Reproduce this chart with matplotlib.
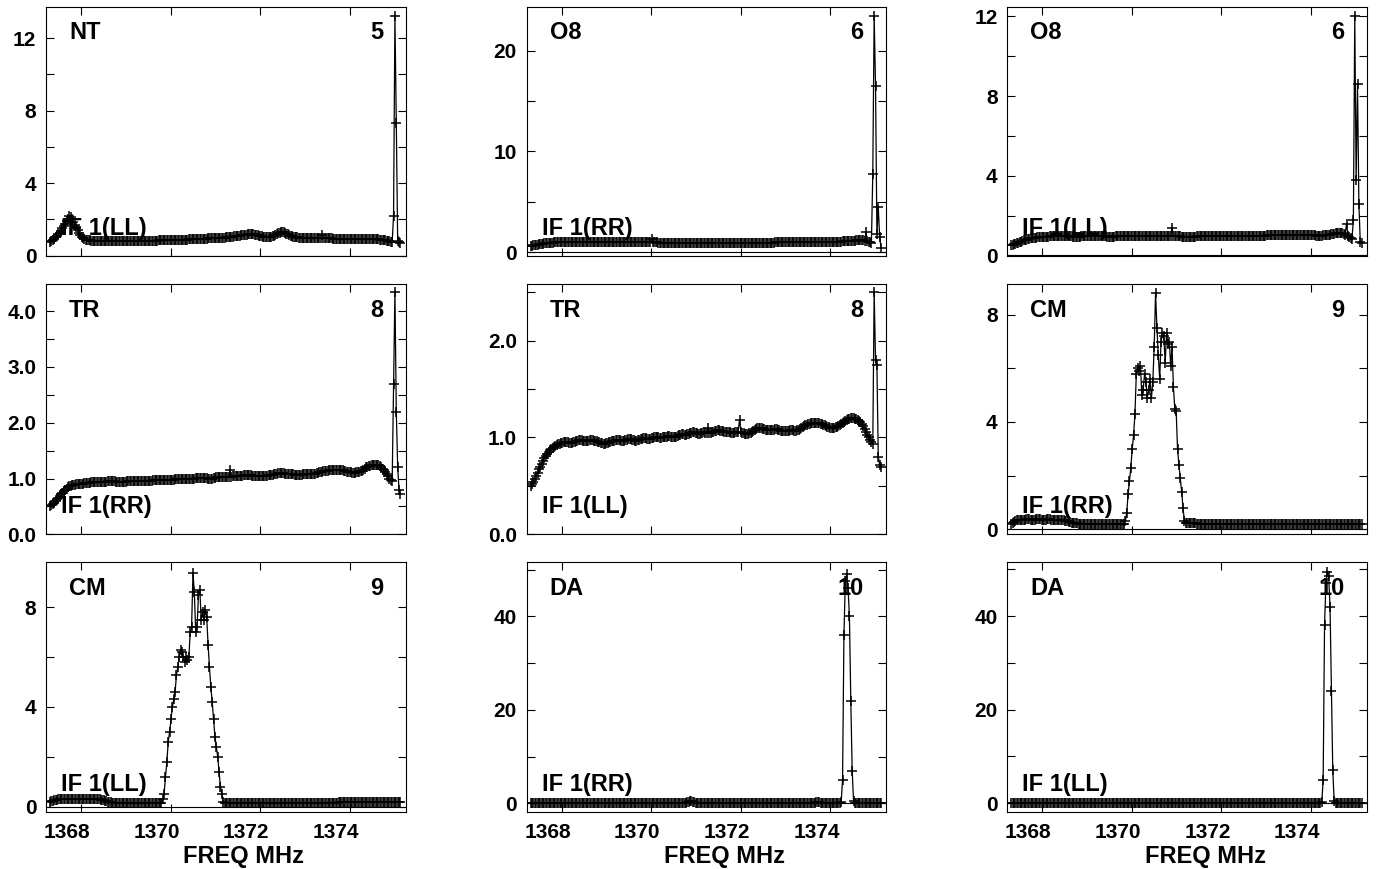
import numpy as np
import matplotlib
matplotlib.use("Agg")
import matplotlib.pyplot as plt
from matplotlib.ticker import FormatStrFormatter
from matplotlib.transforms import ScaledTranslation

# channel frequencies (MHz), 256 channels across the band
CHAN0_MHZ = 1367.31
CHAN_WIDTH_MHZ = 0.030667
N_CHAN = 256

antennas = ["NT", "O8", "O8", "TR", "TR", "CM", "CM", "DA", "DA"]
ant_numbers = [5, 6, 6, 8, 8, 9, 9, 10, 10]
polarizations = ["LL", "RR", "LL", "RR", "LL", "RR", "LL", "RR", "LL"]
freq_ticks = [1368, 1370, 1372, 1374]

amp_nt_ll = [
    0.75, 0.80, 0.86, 0.93, 1.00, 1.08, 1.17, 1.27, 1.38, 1.50, 1.62, 1.75, 1.88, 2.00, 2.20, 2.10,
    2.00, 1.85, 1.70, 1.55, 1.40, 1.25, 1.12, 1.02, 0.95, 0.90, 0.87, 0.85, 0.84, 0.83, 0.82, 0.82,
    0.81, 0.81, 0.80, 0.80, 0.80, 0.79, 0.79, 0.79, 0.79, 0.78, 0.78, 0.78, 0.78, 0.79, 0.79, 0.78,
    0.78, 0.78, 0.78, 0.79, 0.79, 0.79, 0.80, 0.80, 0.79, 0.79, 0.79, 0.80, 0.80, 0.80, 0.80, 0.80,
    0.80, 0.80, 0.81, 0.81, 0.81, 0.81, 0.80, 0.80, 0.81, 0.81, 0.82, 0.82, 0.82, 0.82, 0.82, 0.83,
    0.83, 0.83, 0.83, 0.84, 0.84, 0.84, 0.84, 0.85, 0.85, 0.85, 0.85, 0.86, 0.86, 0.86, 0.86, 0.87,
    0.87, 0.87, 0.88, 0.88, 0.88, 0.89, 0.89, 0.89, 0.90, 0.90, 0.90, 0.91, 0.91, 0.91, 0.92, 0.92,
    0.92, 0.93, 0.93, 0.94, 0.94, 0.94, 0.95, 0.95, 0.96, 0.96, 0.97, 0.97, 0.98, 0.98, 0.99, 0.99,
    1.00, 1.01, 1.02, 1.03, 1.04, 1.05, 1.06, 1.07, 1.08, 1.09, 1.10, 1.11, 1.12, 1.14, 1.15, 1.16,
    1.17, 1.18, 1.19, 1.18, 1.17, 1.16, 1.14, 1.12, 1.10, 1.08, 1.06, 1.04, 1.03, 1.02, 1.01, 1.01,
    1.02, 1.04, 1.07, 1.10, 1.14, 1.18, 1.22, 1.26, 1.29, 1.30, 1.28, 1.25, 1.21, 1.17, 1.13, 1.10,
    1.07, 1.05, 1.03, 1.01, 1.00, 0.99, 0.98, 0.97, 0.97, 0.96, 0.96, 0.95, 0.95, 0.95, 0.94, 0.94,
    0.94, 0.95, 0.95, 0.96, 0.96, 0.97, 1.12, 0.97, 0.96, 0.96, 0.95, 0.95, 0.94, 0.94, 0.93, 0.93,
    0.93, 0.92, 0.92, 0.92, 0.91, 0.91, 0.91, 0.90, 0.90, 0.91, 0.91, 0.92, 0.92, 0.93, 0.93, 0.93,
    0.93, 0.93, 0.93, 0.92, 0.92, 0.93, 0.93, 0.93, 0.92, 0.92, 0.92, 0.91, 0.91, 0.90, 0.90, 0.89,
    0.88, 0.87, 0.86, 0.85, 0.84, 0.82, 0.80, 0.78, 0.76, 0.75, 2.20, 13.20, 7.30, 0.80, 0.72, 0.70,
]

amp_o8_rr = [
    0.60, 0.62, 0.65, 0.68, 0.71, 0.74, 0.77, 0.80, 0.82, 0.84, 0.86, 0.88, 0.90, 0.91, 0.92, 0.93,
    0.94, 0.95, 0.95, 0.96, 0.96, 0.97, 0.97, 0.97, 0.98, 0.98, 0.98, 0.98, 0.99, 0.99, 0.99, 0.99,
    0.99, 0.99, 0.98, 0.98, 0.99, 0.99, 1.00, 1.00, 0.99, 0.99, 0.99, 0.98, 0.98, 0.98, 0.97, 0.97,
    0.97, 0.97, 0.97, 0.96, 0.96, 0.96, 0.96, 0.97, 0.97, 0.97, 0.97, 0.98, 0.98, 0.98, 0.98, 0.98,
    0.98, 0.99, 0.99, 0.99, 0.99, 0.99, 0.98, 0.98, 0.98, 0.98, 0.97, 0.97, 0.97, 0.97, 0.97, 0.97,
    0.97, 0.97, 0.96, 0.96, 0.96, 0.96, 0.96, 0.96, 1.30, 0.96, 0.95, 0.95, 0.95, 0.94, 0.94, 0.94,
    0.94, 0.93, 0.93, 0.93, 0.93, 0.93, 0.92, 0.92, 0.92, 0.92, 0.92, 0.92, 0.92, 0.92, 0.91, 0.91,
    0.91, 0.91, 0.91, 0.91, 0.91, 0.91, 0.91, 0.91, 0.91, 0.91, 0.91, 0.91, 0.91, 0.91, 0.91, 0.91,
    0.91, 0.91, 0.91, 0.91, 0.91, 0.91, 0.91, 0.91, 0.91, 0.91, 0.91, 0.92, 0.92, 0.92, 0.92, 0.92,
    0.92, 0.92, 0.92, 0.92, 0.92, 0.92, 0.92, 0.92, 0.92, 0.92, 0.92, 0.92, 0.92, 0.92, 0.92, 0.92,
    0.92, 0.92, 0.92, 0.93, 0.93, 0.93, 0.93, 0.93, 0.93, 0.93, 0.93, 0.93, 0.94, 0.94, 0.94, 0.94,
    0.94, 0.94, 0.95, 0.95, 0.95, 0.95, 0.95, 0.95, 0.96, 0.96, 0.96, 0.96, 0.96, 0.97, 0.97, 0.97,
    0.97, 0.97, 0.97, 0.98, 0.98, 0.98, 0.98, 0.98, 0.98, 0.99, 0.99, 0.99, 0.99, 0.99, 0.99, 0.99,
    1.00, 1.00, 1.00, 1.00, 1.00, 1.00, 1.01, 1.01, 1.01, 1.01, 1.01, 1.02, 1.02, 1.02, 1.03, 1.03,
    1.03, 1.04, 1.04, 1.05, 1.05, 1.06, 1.07, 1.08, 1.09, 1.10, 1.11, 1.12, 1.14, 1.15, 1.17, 1.18,
    1.20, 1.18, 1.15, 1.10, 2.00, 1.05, 1.00, 0.95, 0.90, 7.80, 23.50, 16.50, 1.80, 4.50, 1.50, 0.40,
]

amp_o8_ll = [
    0.50, 0.52, 0.55, 0.58, 0.61, 0.64, 0.67, 0.70, 0.73, 0.76, 0.78, 0.80, 0.82, 0.84, 0.86, 0.87,
    0.88, 0.89, 0.90, 0.91, 0.92, 0.93, 0.93, 0.94, 0.94, 0.95, 0.95, 0.95, 0.96, 0.96, 0.96, 0.96,
    0.96, 0.97, 0.97, 0.97, 0.96, 0.96, 0.96, 0.97, 0.97, 0.97, 0.96, 0.96, 0.96, 0.95, 0.95, 0.95,
    0.95, 0.95, 0.95, 0.96, 0.96, 0.96, 0.96, 0.96, 0.97, 0.97, 0.97, 0.97, 0.97, 0.97, 0.97, 0.97,
    0.97, 0.96, 0.96, 0.96, 0.96, 0.96, 0.95, 0.95, 0.95, 0.95, 0.95, 0.95, 0.96, 0.96, 0.96, 0.96,
    0.97, 0.97, 0.97, 0.97, 0.97, 0.96, 0.96, 0.96, 0.96, 0.96, 0.96, 0.96, 0.96, 0.97, 0.97, 0.97,
    0.97, 0.97, 0.97, 0.97, 0.97, 0.98, 0.98, 0.98, 0.98, 0.98, 0.98, 0.98, 0.98, 0.98, 0.98, 0.98,
    0.98, 0.98, 0.98, 0.98, 0.98, 1.40, 0.98, 0.97, 0.97, 0.96, 0.96, 0.96, 0.95, 0.95, 0.95, 0.95,
    0.95, 0.95, 0.95, 0.95, 0.95, 0.95, 0.95, 0.96, 0.96, 0.96, 0.96, 0.96, 0.96, 0.96, 0.96, 0.96,
    0.97, 0.97, 0.97, 0.97, 0.97, 0.97, 0.97, 0.97, 0.97, 0.97, 0.97, 0.97, 0.97, 0.97, 0.98, 0.98,
    0.98, 0.98, 0.98, 0.98, 0.98, 0.98, 0.98, 0.98, 0.98, 0.98, 0.98, 0.98, 0.98, 0.98, 0.99, 0.99,
    0.99, 0.99, 0.99, 0.99, 0.99, 1.00, 1.00, 1.00, 1.00, 1.00, 1.01, 1.01, 1.01, 1.01, 1.01, 1.01,
    1.02, 1.02, 1.02, 1.02, 1.03, 1.03, 1.03, 1.03, 1.04, 1.04, 1.04, 1.05, 1.05, 1.05, 1.05, 1.05,
    1.05, 1.05, 1.05, 1.05, 1.05, 1.04, 1.04, 1.04, 1.03, 1.03, 1.02, 1.02, 1.01, 1.01, 1.00, 1.00,
    1.00, 1.00, 1.00, 1.01, 1.01, 1.02, 1.03, 1.04, 1.05, 1.07, 1.08, 1.10, 1.12, 1.13, 1.14, 1.15,
    1.14, 1.12, 1.10, 1.05, 1.60, 1.00, 0.95, 0.90, 0.85, 1.80, 12.00, 3.80, 8.60, 2.60, 0.70, 0.60,
]

amp_tr_rr = [
    0.50, 0.52, 0.54, 0.57, 0.60, 0.63, 0.66, 0.69, 0.72, 0.75, 0.78, 0.80, 0.82, 0.84, 0.86, 0.87,
    0.88, 0.89, 0.89, 0.90, 0.90, 0.91, 0.91, 0.91, 0.91, 0.92, 0.92, 0.92, 0.92, 0.92, 0.93, 0.93,
    0.93, 0.93, 0.93, 0.93, 0.94, 0.94, 0.94, 0.94, 0.94, 0.94, 0.95, 0.95, 0.95, 0.95, 0.95, 0.95,
    0.94, 0.94, 0.94, 0.94, 0.94, 0.94, 0.94, 0.94, 0.95, 0.95, 0.95, 0.96, 0.96, 0.96, 0.96, 0.96,
    0.96, 0.96, 0.96, 0.96, 0.96, 0.95, 0.95, 0.95, 0.95, 0.96, 0.96, 0.97, 0.97, 0.98, 0.98, 0.98,
    0.98, 0.98, 0.98, 0.98, 0.98, 0.98, 0.97, 0.97, 0.97, 0.98, 0.98, 0.99, 0.99, 1.00, 1.00, 1.00,
    1.00, 1.00, 1.00, 1.00, 1.00, 1.00, 1.00, 1.00, 1.00, 1.00, 1.01, 1.01, 1.01, 1.01, 1.01, 1.01,
    1.01, 1.01, 1.01, 1.00, 1.00, 1.00, 1.00, 1.01, 1.01, 1.02, 1.02, 1.02, 1.02, 1.02, 1.02, 1.03,
    1.03, 1.03, 1.03, 1.15, 1.03, 1.04, 1.04, 1.04, 1.04, 1.05, 1.05, 1.05, 1.05, 1.06, 1.06, 1.06,
    1.06, 1.06, 1.06, 1.05, 1.05, 1.05, 1.04, 1.04, 1.04, 1.04, 1.04, 1.04, 1.05, 1.05, 1.05, 1.06,
    1.06, 1.07, 1.07, 1.08, 1.09, 1.09, 1.10, 1.10, 1.10, 1.10, 1.10, 1.09, 1.09, 1.08, 1.08, 1.08,
    1.08, 1.08, 1.07, 1.07, 1.07, 1.07, 1.07, 1.07, 1.08, 1.08, 1.08, 1.08, 1.08, 1.08, 1.08, 1.09,
    1.09, 1.09, 1.10, 1.10, 1.11, 1.11, 1.12, 1.13, 1.13, 1.14, 1.14, 1.15, 1.15, 1.16, 1.16, 1.16,
    1.16, 1.16, 1.16, 1.15, 1.15, 1.15, 1.14, 1.13, 1.12, 1.12, 1.11, 1.11, 1.10, 1.10, 1.10, 1.11,
    1.11, 1.12, 1.13, 1.14, 1.16, 1.18, 1.20, 1.21, 1.22, 1.23, 1.24, 1.24, 1.25, 1.25, 1.24, 1.24,
    1.23, 1.21, 1.18, 1.15, 1.12, 1.08, 1.04, 1.00, 0.97, 0.95, 2.70, 4.35, 2.20, 1.20, 0.80, 0.72,
]

amp_tr_ll = [
    0.50, 0.52, 0.54, 0.57, 0.60, 0.63, 0.67, 0.70, 0.73, 0.76, 0.79, 0.81, 0.83, 0.85, 0.87, 0.88,
    0.89, 0.90, 0.91, 0.92, 0.93, 0.93, 0.94, 0.94, 0.95, 0.95, 0.95, 0.95, 0.94, 0.94, 0.94, 0.95,
    0.95, 0.96, 0.96, 0.97, 0.97, 0.97, 0.96, 0.96, 0.96, 0.96, 0.96, 0.97, 0.97, 0.97, 0.96, 0.96,
    0.96, 0.95, 0.95, 0.94, 0.94, 0.93, 0.93, 0.94, 0.94, 0.95, 0.95, 0.96, 0.96, 0.96, 0.97, 0.97,
    0.97, 0.97, 0.96, 0.96, 0.96, 0.97, 0.97, 0.98, 0.98, 0.98, 0.97, 0.97, 0.96, 0.96, 0.97, 0.97,
    0.98, 0.98, 0.99, 0.99, 0.99, 0.98, 0.98, 0.98, 0.99, 0.99, 1.00, 1.00, 1.00, 1.00, 0.99, 0.99,
    1.00, 1.00, 1.01, 1.01, 1.02, 1.02, 1.01, 1.01, 1.00, 1.01, 1.01, 1.02, 1.03, 1.03, 1.04, 1.04,
    1.03, 1.03, 1.04, 1.04, 1.05, 1.05, 1.06, 1.06, 1.05, 1.05, 1.04, 1.04, 1.05, 1.05, 1.06, 1.05,
    1.05, 1.10, 1.05, 1.05, 1.06, 1.06, 1.07, 1.07, 1.08, 1.08, 1.07, 1.07, 1.07, 1.06, 1.06, 1.06,
    1.06, 1.06, 1.05, 1.05, 1.05, 1.06, 1.06, 1.06, 1.18, 1.06, 1.05, 1.05, 1.04, 1.04, 1.04, 1.05,
    1.05, 1.06, 1.07, 1.08, 1.09, 1.10, 1.10, 1.10, 1.10, 1.09, 1.09, 1.08, 1.08, 1.08, 1.08, 1.08,
    1.08, 1.08, 1.09, 1.09, 1.08, 1.08, 1.07, 1.07, 1.07, 1.07, 1.07, 1.07, 1.07, 1.08, 1.08, 1.08,
    1.07, 1.07, 1.08, 1.08, 1.09, 1.10, 1.11, 1.12, 1.13, 1.13, 1.14, 1.14, 1.15, 1.15, 1.15, 1.15,
    1.15, 1.15, 1.15, 1.14, 1.14, 1.13, 1.13, 1.12, 1.11, 1.11, 1.10, 1.10, 1.10, 1.10, 1.11, 1.11,
    1.12, 1.13, 1.14, 1.15, 1.16, 1.17, 1.18, 1.19, 1.19, 1.20, 1.20, 1.20, 1.19, 1.19, 1.18, 1.17,
    1.16, 1.14, 1.12, 1.09, 1.06, 1.03, 1.00, 0.97, 0.95, 0.93, 2.50, 1.80, 1.75, 0.80, 0.72, 0.70,
]

amp_cm_rr = [
    0.20, 0.24, 0.28, 0.31, 0.33, 0.34, 0.35, 0.35, 0.36, 0.36, 0.36, 0.37, 0.37, 0.37, 0.36, 0.36,
    0.36, 0.36, 0.37, 0.37, 0.37, 0.37, 0.36, 0.36, 0.36, 0.36, 0.37, 0.37, 0.37, 0.36, 0.36, 0.36,
    0.36, 0.35, 0.35, 0.35, 0.34, 0.34, 0.33, 0.32, 0.31, 0.30, 0.28, 0.27, 0.25, 0.24, 0.23, 0.22,
    0.22, 0.21, 0.21, 0.21, 0.20, 0.20, 0.20, 0.20, 0.20, 0.20, 0.20, 0.20, 0.20, 0.20, 0.20, 0.20,
    0.20, 0.20, 0.20, 0.20, 0.20, 0.20, 0.20, 0.20, 0.20, 0.20, 0.20, 0.20, 0.20, 0.20, 0.20, 0.20,
    0.20, 0.20, 0.21, 0.30, 0.60, 1.30, 1.80, 2.30, 3.00, 3.50, 4.30, 5.80, 6.00, 5.90, 6.10, 5.00,
    5.20, 5.80, 5.50, 4.90, 5.20, 5.60, 4.90, 5.50, 6.80, 8.80, 7.50, 6.50, 5.60, 7.00, 7.30, 7.20,
    6.20, 7.30, 6.90, 7.00, 6.10, 6.80, 5.30, 4.50, 4.40, 3.00, 2.40, 1.90, 1.40, 0.80, 0.30, 0.25,
    0.24, 0.23, 0.23, 0.22, 0.22, 0.22, 0.22, 0.21, 0.21, 0.21, 0.21, 0.21, 0.20, 0.20, 0.20, 0.20,
    0.20, 0.20, 0.20, 0.20, 0.20, 0.20, 0.20, 0.19, 0.19, 0.19, 0.19, 0.19, 0.19, 0.19, 0.19, 0.19,
    0.19, 0.19, 0.19, 0.19, 0.19, 0.19, 0.19, 0.19, 0.19, 0.19, 0.19, 0.19, 0.19, 0.19, 0.19, 0.19,
    0.19, 0.19, 0.19, 0.19, 0.19, 0.19, 0.18, 0.18, 0.18, 0.18, 0.18, 0.18, 0.18, 0.18, 0.18, 0.18,
    0.18, 0.18, 0.18, 0.18, 0.18, 0.18, 0.18, 0.18, 0.18, 0.18, 0.18, 0.18, 0.18, 0.18, 0.18, 0.18,
    0.18, 0.18, 0.18, 0.18, 0.18, 0.18, 0.18, 0.18, 0.18, 0.18, 0.18, 0.18, 0.18, 0.18, 0.18, 0.18,
    0.18, 0.18, 0.18, 0.18, 0.18, 0.18, 0.18, 0.18, 0.18, 0.18, 0.18, 0.18, 0.18, 0.18, 0.18, 0.18,
    0.18, 0.18, 0.18, 0.18, 0.18, 0.18, 0.18, 0.18, 0.18, 0.18, 0.18, 0.18, 0.18, 0.18, 0.18, 0.18,
]

amp_cm_ll = [
    0.20, 0.22, 0.24, 0.26, 0.27, 0.28, 0.29, 0.29, 0.30, 0.30, 0.30, 0.31, 0.31, 0.31, 0.30, 0.30,
    0.30, 0.31, 0.31, 0.31, 0.31, 0.30, 0.30, 0.31, 0.31, 0.31, 0.30, 0.30, 0.31, 0.31, 0.31, 0.30,
    0.30, 0.30, 0.30, 0.29, 0.29, 0.28, 0.27, 0.26, 0.24, 0.22, 0.20, 0.18, 0.17, 0.16, 0.16, 0.15,
    0.15, 0.15, 0.15, 0.15, 0.15, 0.15, 0.15, 0.15, 0.15, 0.15, 0.15, 0.15, 0.15, 0.15, 0.15, 0.15,
    0.15, 0.15, 0.15, 0.15, 0.15, 0.15, 0.15, 0.15, 0.15, 0.15, 0.15, 0.15, 0.15, 0.15, 0.15, 0.15,
    0.15, 0.15, 0.30, 0.50, 1.20, 1.80, 2.60, 3.00, 3.50, 4.00, 4.30, 4.60, 5.30, 5.60, 6.00, 6.30,
    6.20, 6.00, 5.80, 6.00, 5.90, 6.00, 7.00, 7.20, 9.40, 8.60, 7.00, 7.20, 8.50, 8.70, 7.50, 7.80,
    7.50, 7.90, 7.60, 6.50, 5.60, 4.80, 4.20, 3.50, 2.80, 2.40, 2.00, 1.40, 0.80, 0.50, 0.20, 0.16,
    0.15, 0.15, 0.15, 0.15, 0.15, 0.15, 0.15, 0.15, 0.15, 0.15, 0.15, 0.15, 0.15, 0.15, 0.15, 0.15,
    0.15, 0.15, 0.15, 0.15, 0.15, 0.15, 0.15, 0.15, 0.15, 0.15, 0.15, 0.15, 0.15, 0.15, 0.15, 0.15,
    0.15, 0.15, 0.15, 0.15, 0.15, 0.15, 0.15, 0.15, 0.15, 0.15, 0.15, 0.15, 0.15, 0.15, 0.15, 0.15,
    0.15, 0.15, 0.15, 0.15, 0.15, 0.15, 0.15, 0.15, 0.15, 0.15, 0.15, 0.15, 0.15, 0.15, 0.15, 0.15,
    0.15, 0.15, 0.15, 0.15, 0.15, 0.15, 0.16, 0.16, 0.16, 0.16, 0.16, 0.16, 0.16, 0.16, 0.16, 0.16,
    0.16, 0.16, 0.17, 0.17, 0.17, 0.17, 0.17, 0.17, 0.17, 0.17, 0.17, 0.17, 0.17, 0.17, 0.17, 0.17,
    0.17, 0.17, 0.17, 0.17, 0.17, 0.17, 0.17, 0.17, 0.17, 0.17, 0.17, 0.17, 0.17, 0.17, 0.17, 0.17,
    0.17, 0.17, 0.17, 0.17, 0.17, 0.17, 0.17, 0.17, 0.17, 0.17, 0.17, 0.17, 0.17, 0.17, 0.17, 0.17,
]

amp_da_rr = [
    0.10, 0.10, 0.10, 0.10, 0.10, 0.10, 0.10, 0.10, 0.10, 0.10, 0.10, 0.10, 0.10, 0.10, 0.10, 0.10,
    0.10, 0.10, 0.10, 0.10, 0.10, 0.10, 0.10, 0.10, 0.10, 0.10, 0.10, 0.10, 0.10, 0.10, 0.10, 0.10,
    0.10, 0.10, 0.10, 0.10, 0.10, 0.10, 0.10, 0.10, 0.10, 0.10, 0.10, 0.10, 0.10, 0.10, 0.10, 0.10,
    0.10, 0.10, 0.10, 0.10, 0.10, 0.10, 0.10, 0.10, 0.10, 0.10, 0.10, 0.10, 0.10, 0.10, 0.10, 0.10,
    0.10, 0.10, 0.10, 0.10, 0.10, 0.10, 0.10, 0.10, 0.10, 0.10, 0.10, 0.10, 0.10, 0.10, 0.10, 0.10,
    0.10, 0.10, 0.10, 0.10, 0.10, 0.10, 0.10, 0.10, 0.10, 0.10, 0.10, 0.10, 0.10, 0.10, 0.10, 0.10,
    0.10, 0.10, 0.10, 0.10, 0.10, 0.10, 0.10, 0.10, 0.10, 0.10, 0.10, 0.10, 0.10, 0.10, 0.10, 0.10,
    0.10, 0.10, 0.20, 0.30, 0.50, 0.40, 0.30, 0.20, 0.10, 0.10, 0.10, 0.10, 0.10, 0.10, 0.10, 0.10,
    0.10, 0.10, 0.10, 0.10, 0.10, 0.10, 0.10, 0.10, 0.10, 0.10, 0.10, 0.10, 0.10, 0.10, 0.10, 0.10,
    0.10, 0.10, 0.10, 0.10, 0.10, 0.10, 0.10, 0.10, 0.10, 0.10, 0.10, 0.10, 0.10, 0.10, 0.10, 0.10,
    0.10, 0.10, 0.10, 0.10, 0.10, 0.10, 0.10, 0.10, 0.10, 0.10, 0.10, 0.10, 0.10, 0.10, 0.10, 0.10,
    0.10, 0.10, 0.10, 0.10, 0.10, 0.10, 0.10, 0.10, 0.10, 0.10, 0.10, 0.10, 0.10, 0.10, 0.10, 0.10,
    0.10, 0.10, 0.10, 0.10, 0.10, 0.10, 0.10, 0.10, 0.10, 0.10, 0.10, 0.10, 0.10, 0.10, 0.10, 0.10,
    0.20, 0.30, 0.20, 0.10, 0.10, 0.10, 0.10, 0.10, 0.10, 0.10, 0.10, 0.10, 0.10, 0.10, 0.10, 0.10,
    0.10, 0.10, 0.30, 5.00, 36.00, 47.50, 49.00, 46.00, 40.00, 22.00, 7.00, 0.50, 0.10, 0.10, 0.10, 0.10,
    0.10, 0.10, 0.10, 0.10, 0.10, 0.10, 0.10, 0.10, 0.10, 0.10, 0.10, 0.10, 0.10, 0.10, 0.10, 0.10,
]

amp_da_ll = [
    0.10, 0.10, 0.10, 0.10, 0.10, 0.10, 0.10, 0.10, 0.10, 0.10, 0.10, 0.10, 0.10, 0.10, 0.10, 0.10,
    0.10, 0.10, 0.10, 0.10, 0.10, 0.10, 0.10, 0.10, 0.10, 0.10, 0.10, 0.10, 0.10, 0.10, 0.10, 0.10,
    0.10, 0.10, 0.10, 0.10, 0.10, 0.10, 0.10, 0.10, 0.10, 0.10, 0.10, 0.10, 0.10, 0.10, 0.10, 0.10,
    0.10, 0.10, 0.10, 0.10, 0.10, 0.10, 0.10, 0.10, 0.10, 0.10, 0.10, 0.10, 0.10, 0.10, 0.10, 0.10,
    0.10, 0.10, 0.10, 0.10, 0.10, 0.10, 0.10, 0.10, 0.10, 0.10, 0.10, 0.10, 0.10, 0.10, 0.10, 0.10,
    0.10, 0.10, 0.10, 0.10, 0.10, 0.10, 0.10, 0.10, 0.10, 0.10, 0.10, 0.10, 0.10, 0.10, 0.10, 0.10,
    0.10, 0.10, 0.10, 0.10, 0.10, 0.10, 0.10, 0.10, 0.10, 0.10, 0.10, 0.10, 0.10, 0.10, 0.10, 0.10,
    0.10, 0.10, 0.10, 0.10, 0.10, 0.10, 0.10, 0.10, 0.10, 0.10, 0.10, 0.10, 0.10, 0.10, 0.10, 0.10,
    0.10, 0.10, 0.10, 0.10, 0.10, 0.10, 0.10, 0.10, 0.10, 0.10, 0.10, 0.10, 0.10, 0.10, 0.10, 0.10,
    0.10, 0.10, 0.10, 0.10, 0.10, 0.10, 0.10, 0.10, 0.10, 0.10, 0.10, 0.10, 0.10, 0.10, 0.10, 0.10,
    0.10, 0.10, 0.10, 0.10, 0.10, 0.10, 0.10, 0.10, 0.10, 0.10, 0.10, 0.10, 0.10, 0.10, 0.10, 0.10,
    0.10, 0.10, 0.10, 0.10, 0.10, 0.10, 0.10, 0.10, 0.10, 0.10, 0.10, 0.10, 0.10, 0.10, 0.10, 0.10,
    0.10, 0.10, 0.10, 0.10, 0.10, 0.10, 0.10, 0.10, 0.10, 0.10, 0.10, 0.10, 0.10, 0.10, 0.10, 0.10,
    0.10, 0.10, 0.10, 0.10, 0.10, 0.10, 0.10, 0.10, 0.10, 0.10, 0.10, 0.10, 0.10, 0.10, 0.10, 0.10,
    0.10, 0.10, 0.20, 5.00, 38.00, 47.00, 49.50, 48.50, 42.00, 24.00, 7.00, 0.50, 0.10, 0.10, 0.10, 0.10,
    0.10, 0.10, 0.10, 0.10, 0.10, 0.10, 0.10, 0.10, 0.10, 0.10, 0.10, 0.10, 0.10, 0.10, 0.10, 0.10,
]

amplitudes = [amp_nt_ll, amp_o8_rr, amp_o8_ll, amp_tr_rr, amp_tr_ll,
              amp_cm_rr, amp_cm_ll, amp_da_rr, amp_da_ll]

# per-panel y axis: (ymin, ymax, major step, minor step, label format)
y_axes = [
    (-0.05, 13.74, 4, 2, "%d"),
    (-0.44, 24.4, 10, 5, "%d"),
    (-0.05, 12.5, 4, 2, "%d"),
    (0.0, 4.48, 1.0, 0.5, "%.1f"),
    (0.0, 2.58, 1.0, 0.5, "%.1f"),
    (-0.19, 9.13, 4, 2, "%d"),
    (-0.23, 9.81, 4, 2, "%d"),
    (-1.93, 51.6, 20, 10, "%d"),
    (-1.93, 51.5, 20, 10, "%d"),
]

plt.rcParams["font.family"] = ["Liberation Sans", "DejaVu Sans"]
plt.rcParams["font.weight"] = "bold"
plt.rcParams["font.size"] = 15

LABEL_SIZE = 17


def style_panel(fig, ax, ymin, ymax, ystep, yminor, fmt, bottom_row):
    ax.set_xlim(1367.22, 1375.25)
    ax.set_ylim(ymin, ymax)
    ax.set_xticks(freq_ticks)
    ax.set_yticks(np.arange(0, ymax + 1e-9, ystep))
    ax.set_yticks(np.arange(0, ymax + 1e-9, yminor), minor=True)
    ax.yaxis.set_major_formatter(FormatStrFormatter(fmt))
    ax.tick_params(which="both", direction="in", top=True, right=True,
                   length=6, width=0.8, labelsize=15)
    ax.tick_params(axis="y", pad=7)
    ax.tick_params(axis="x", pad=8, labelbottom=bottom_row)
    for sp in ax.spines.values():
        sp.set_linewidth(0.8)
    if bottom_row:
        # the freq labels sit a little left of their ticks in the original
        shift = ScaledTranslation(-0.14, 0, fig.dpi_scale_trans)
        for lab in ax.get_xticklabels():
            lab.set_transform(lab.get_transform() + shift)
        ax.set_xlabel("FREQ MHz", fontsize=LABEL_SIZE, fontweight="bold")
        ax.xaxis.set_label_coords(0.55, -0.13)


freq = CHAN0_MHZ + CHAN_WIDTH_MHZ * np.arange(N_CHAN)

fig, axes = plt.subplots(3, 3, figsize=(13.79, 8.69), dpi=100)
fig.subplots_adjust(left=0.0334, right=0.9913, top=0.9925, bottom=0.0653,
                    wspace=0.336, hspace=0.112)

for k, ax in enumerate(axes.flat):
    ymin, ymax, ystep, yminor, fmt = y_axes[k]
    style_panel(fig, ax, ymin, ymax, ystep, yminor, fmt, bottom_row=(k >= 6))

    ax.axhline(0, color="black", lw=0.8, zorder=1.5)
    ax.text(0.064, 0.896, antennas[k], transform=ax.transAxes, fontsize=LABEL_SIZE,
            ha="left", va="center", zorder=1)
    ax.text(0.937, 0.896, str(ant_numbers[k]), transform=ax.transAxes,
            fontsize=LABEL_SIZE, ha="right", va="center", zorder=1)
    ax.text(0.042, 0.112, "IF 1(%s)" % polarizations[k], transform=ax.transAxes,
            fontsize=LABEL_SIZE, ha="left", va="center", zorder=1)

    ax.plot(freq, amplitudes[k], color="black", lw=0.9, marker="+",
            ms=7, mew=1.1, zorder=2)

fig.savefig("out.png", dpi=100)
